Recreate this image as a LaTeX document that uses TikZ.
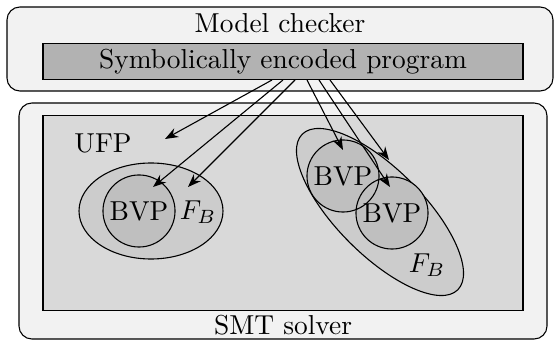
\documentclass[tikz,border=0pt]{standalone}
\usepackage{amsmath}
\usepackage{xcolor}
\usepackage{tikz}
\usetikzlibrary{arrows.meta,positioning,calc}

\begin{document}
\begin{tikzpicture}[x=0.365pt,y=-0.365pt,>={Stealth},
    frame/.style={draw,fill=gray!10,rounded corners=4.7pt},
    layer/.style={draw,inner sep=0pt,minimum width=175.2pt},
    region/.style={draw,fill=gray!40},
    set/.style={circle,minimum size=26.3pt,inner sep=0pt}]
  \useasboundingbox (0,0) rectangle (555,341);
  % model checker and SMT solver frames
  \draw[frame] (7,7) rectangle (553,91);
  \draw[frame] (19,103) rectangle (547,339);
  \node (mc) at (280,23) {Model checker};
  \node[layer,fill=gray!60,minimum height=13.1pt] (prog) at (283,61.5)
        {Symbolically encoded program};
  \node[layer,fill=gray!30,minimum height=71.5pt] (ufpbox) at (283,213) {};
  \node (smt) at (283,325) {SMT solver};
  % left group
  \draw[region] (151,211) ellipse [x radius=72,y radius=48];
  \node[set,draw,fill=gray!50] (bvpA) at (139,211) {BVP};
  \node (ufp) at (103,143) {UFP};
  \node (fbA) at (198,212) {$F_B$};
  % right group, both outlines stay visible
  \draw[region,rotate around={-45:(380,212)}] (380,212) ellipse [x radius=110,y radius=43];
  \fill[gray!50] (343,176) circle [radius=36] (392,213) circle [radius=36];
  \node[set,draw] (bvpB) at (343,176) {BVP};
  \node[set,draw] (bvpC) at (392,213) {BVP};
  \node (fbB) at (427,265) {$F_B$};
  % arrow ends
  \coordinate (eU) at (165,139);
  \coordinate (eA) at (153,187);
  \coordinate (eF) at (188,187);
  \coordinate (eB) at (343,150);
  \coordinate (eC) at (390,187);
  \coordinate (eG) at (389,160);
  \draw[->] ($(prog.south)+(-11,0)$) -- (eU);
  \draw[->] (prog.south) -- (eA);
  \draw[->] ($(prog.south)+(12,0)$) -- (eF);
  \draw[->] ($(prog.south)+(24,0)$) -- (eB);
  \draw[->] ($(prog.south)+(36,0)$) -- (eC);
  \draw[->] ($(prog.south)+(47,0)$) -- (eG);
\end{tikzpicture}
\end{document}
